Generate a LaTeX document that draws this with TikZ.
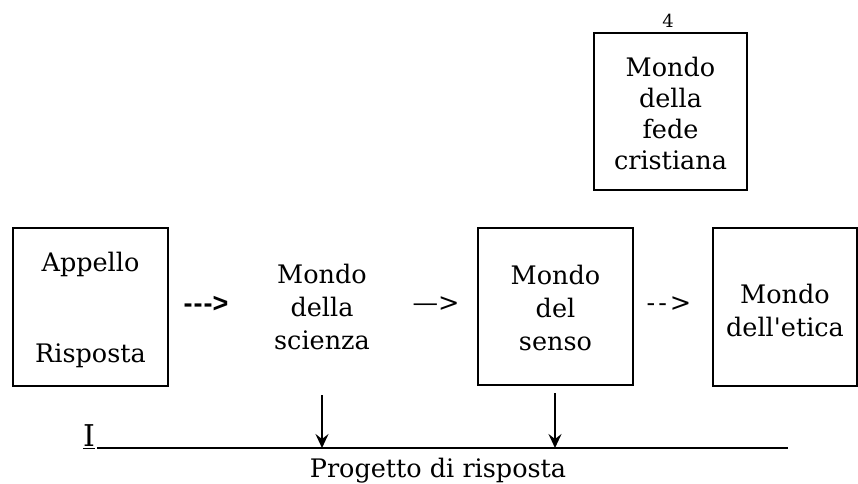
\documentclass[tikz,border=0pt]{standalone}
\usepackage{fontspec}
\setmainfont{DejaVu Serif}[Ligatures=TeXOff]
\newfontfamily\arrowfont{Liberation Sans}[Ligatures=TeXOff]
\usetikzlibrary{arrows.meta}
\begin{document}
\begin{tikzpicture}[x=1pt,y=-1pt,
  box/.style={draw,line width=2pt,inner sep=0pt},
  txt/.style={inner sep=0pt,align=center,font=\fontsize{25.5}{33}\selectfont},
  arr/.style={inner sep=0pt,font=\fontsize{25.5}{30}\selectfont},
  down/.style={line width=2pt,-{Stealth[length=14pt,width=13pt,inset=5pt]}}]
\useasboundingbox (0,0) rectangle (858,483);
% boxes
\node[box,minimum width=155pt,minimum height=158pt] (app) at (90.5,307) {};
\node[txt] (appT) at (90.5,264) {Appello};
\node[txt] (risT) at (90.5,356) {Risposta};
\node[txt] (sci) at (322,307) {Mondo\\della\\scienza};
\node[box,minimum width=155pt,minimum height=157pt] (sen) at (555.5,306.5) {};
\node[txt] (senT) at (555.5,308) {Mondo\\del\\senso};
\node[box,minimum width=144pt,minimum height=158pt] (eti) at (785,307) {};
\node[txt] (etiT) at (785,310) {Mondo\\dell'etica};
\node[box,minimum width=153pt,minimum height=157pt] (fed) at (670.5,111.5) {};
\node[txt,font=\fontsize{25.5}{31}\selectfont] (fedT) at (670.5,113) {Mondo\\della\\fede\\cristiana};
\node[inner sep=0pt,font=\fontsize{18}{20}\selectfont] (four) at (668,21) {4};
% arrows as text
\node[arr,font=\arrowfont\bfseries\fontsize{27}{30}\selectfont] (a1) at (206,304) {-\kern1pt-\kern1pt->};
\node[arr] (a2) at (436,304) {—>};
\node[arr] (a3) at (669,304) {-\kern3pt-\kern3pt>};
% bottom line
\node[inner sep=0pt,font=\fontsize{30}{34}\selectfont] (I) at (89,437) {\underline{I}};
\coordinate (L0) at (97,448);
\coordinate (L1) at (788,448);
\draw[line width=2pt] (L0) -- (L1);
\coordinate (d1) at (322,395);
\coordinate (e1) at (322,448);
\coordinate (d2) at (555,393);
\coordinate (e2) at (555,448);
\draw[down] (d1) -- (e1);
\draw[down] (d2) -- (e2);
\node[txt] (prog) at (438,471) {Progetto di risposta};
\end{tikzpicture}
\end{document}
